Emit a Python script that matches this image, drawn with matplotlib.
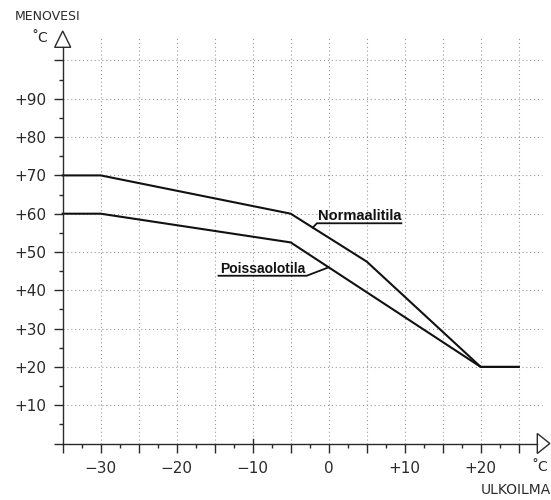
import matplotlib
matplotlib.use('Agg')

import matplotlib.pyplot as plt
from matplotlib.patches import Polygon
import numpy as np


# === data: supply water temperature vs outdoor temperature ===
outdoor_normal = [-35, -30, -5, 5, 20, 25]
supply_normal = [70, 70, 60, 47.5, 20, 20]
outdoor_away = [-35, -30, -5, 20, 25]
supply_away = [60, 60, 52.5, 20, 20]

x_major = [-35, -30, -25, -20, -15, -10, -5, 0, 5, 10, 15, 20, 25]
x_labels = ['', '\u221230', '', '\u221220', '', '\u221210', '', '0', '', '+10', '', '+20', '']
x_minor = [-32.5, -27.5, -22.5, -17.5, -12.5, -7.5, -2.5, 2.5, 7.5, 12.5, 17.5, 22.5]
y_major = [0, 10, 20, 30, 40, 50, 60, 70, 80, 90, 100]
y_labels = ['', '+10', '+20', '+30', '+40', '+50', '+60', '+70', '+80', '+90', '']
y_minor = [5, 15, 25, 35, 45, 55, 65, 75, 85, 95]

# pixel -> data scale
PX = 1 / 7.6
PY = 1 / 3.83
DARK = '#2a2a2a'
GRID = '#9a9a9a'

fig = plt.figure(figsize=(5.51, 5.0), dpi=100)
ax = fig.add_axes([62.7 / 551, 56.5 / 500, (537.3 - 62.7) / 551, (443.5 - 47.3) / 500])
x_end = -35 + (537.3 - 62.7) * PX
y_end = (443.5 - 47.3) * PY
ax.set_xlim(-35, x_end)
ax.set_ylim(0, y_end)

for side in ['top', 'right']:
    ax.spines[side].set_visible(False)
for side in ['left', 'bottom']:
    ax.spines[side].set_color(DARK)
    ax.spines[side].set_linewidth(1.0)

ax.set_xticks(x_major)
ax.set_xticklabels(x_labels)
ax.set_xticks(x_minor, minor=True)
ax.set_yticks(y_major)
ax.set_yticklabels(y_labels)
ax.set_yticks(y_minor, minor=True)
ax.tick_params(which='major', direction='out', length=6.5, width=1.0, color=DARK,
               labelsize=11, labelcolor=DARK)
ax.tick_params(which='minor', direction='out', length=3.0, width=1.0, color=DARK)
ax.tick_params(axis='x', which='major', pad=6)
ax.tick_params(axis='y', which='major', pad=5.5)

# dotted grid
ax.vlines(x_major[1:], 0, 105.9, colors=GRID, linestyles=(0, (1, 2.5)), linewidth=0.8, clip_on=False)
ax.hlines(y_major[1:], -35, 28.0, colors=GRID, linestyles=(0, (1, 2.5)), linewidth=0.8, clip_on=False)

# small mark above axis at -10
ax.plot([-10, -10], [0, 5 * PY], color=DARK, lw=1.0, clip_on=False)

# arrow heads
ax.add_patch(Polygon([(-35 - 8 * PX, y_end), (-35 + 8 * PX, y_end), (-35, y_end + 16.3 * PY)],
                     closed=True, facecolor='white', edgecolor=DARK, lw=1.0, clip_on=False))
ax.add_patch(Polygon([(x_end, -10 * PY), (x_end, 10 * PY), (x_end + 12.5 * PX, 0)],
                     closed=True, facecolor='white', edgecolor=DARK, lw=1.0, clip_on=False))

# curves
ax.plot(outdoor_normal, supply_normal, color='#111111', lw=1.5, clip_on=False)
ax.plot(outdoor_away, supply_away, color='#111111', lw=1.5, clip_on=False)

# axis titles
ax.text(-41.3, 111.4, 'MENOVESI', fontsize=9, color=DARK, va='center', ha='left')
ax.text(-39.1, 105.9, '˚C', fontsize=10, color=DARK, va='center', ha='left')
ax.text(28.9, -6.1, '˚C', fontsize=10, color=DARK, va='center', ha='right')
ax.text(29.2, -12.1, 'ULKOILMA', fontsize=10, color=DARK, va='center', ha='right')

# labels with leader lines
n_x0, n_x1, n_y = -1.55, 9.55, 57.5
ax.text(n_x0 + 0.15, n_y + 3 * PY, 'Normaalitila', fontsize=10.5, fontweight='bold',
        family='Liberation Sans', color='#111111', va='baseline', ha='left')
n_tx = -2.1
ax.plot([n_tx, n_x0, n_x1], [np.interp(n_tx, outdoor_normal, supply_normal), n_y, n_y],
        color='#111111', lw=1.3)

p_x0, p_x1, p_y = -14.5, -2.9, 43.8
ax.text(p_x0 + 0.2, p_y + 3 * PY, 'Poissaolotila', fontsize=10, fontweight='bold',
        family='Liberation Sans', color='#111111', va='baseline', ha='left')
p_tx = 0.0
ax.plot([p_x0, p_x1, p_tx], [p_y, p_y, np.interp(p_tx, outdoor_away, supply_away)],
        color='#111111', lw=1.3)

fig.savefig('out.png', dpi=100)
